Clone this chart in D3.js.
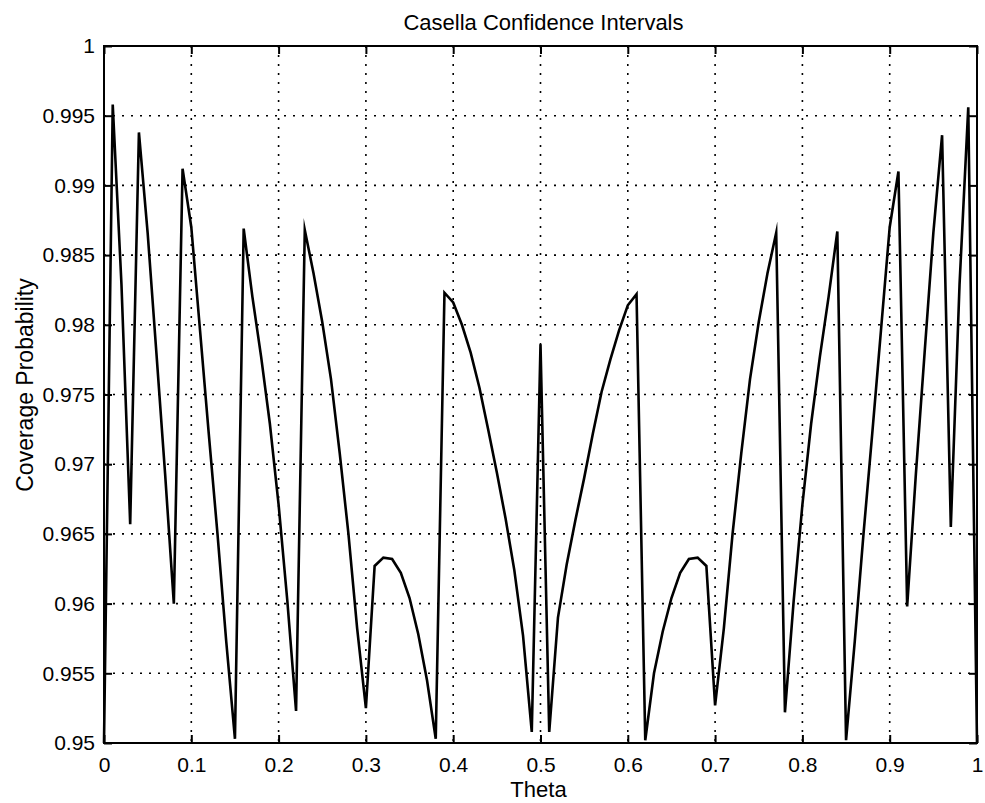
<!DOCTYPE html>
<html>
<head>
<meta charset="utf-8">
<script src="https://cdn.jsdelivr.net/npm/d3@7"></script>
<style>
  body { margin: 0; background: #fff; }
  svg text { font-family: Arial, "Liberation Sans", Helvetica, sans-serif; fill: #000; }
</style>
</head>
<body>
<div id="chart"></div>
<script>
var svgWidth = 985;
var svgHeight = 803;

var margin = {
  top: 46,
  right: 8,
  bottom: 60,
  left: 104
};

var width = svgWidth - margin.left - margin.right;
var height = svgHeight - margin.top - margin.bottom;

var theta = [
  0.00, 0.01, 0.02, 0.03, 0.04, 0.05, 0.06, 0.07, 0.08, 0.09,
  0.10, 0.11, 0.12, 0.13, 0.14, 0.15, 0.16, 0.17, 0.18, 0.19,
  0.20, 0.21, 0.22, 0.23, 0.24, 0.25, 0.26, 0.27, 0.28, 0.29,
  0.30, 0.31, 0.32, 0.33, 0.34, 0.35, 0.36, 0.37, 0.38, 0.39,
  0.40, 0.41, 0.42, 0.43, 0.44, 0.45, 0.46, 0.47, 0.48, 0.49,
  0.50, 0.51, 0.52, 0.53, 0.54, 0.55, 0.56, 0.57, 0.58, 0.59,
  0.60, 0.61, 0.62, 0.63, 0.64, 0.65, 0.66, 0.67, 0.68, 0.69,
  0.70, 0.71, 0.72, 0.73, 0.74, 0.75, 0.76, 0.77, 0.78, 0.79,
  0.80, 0.81, 0.82, 0.83, 0.84, 0.85, 0.86, 0.87, 0.88, 0.89,
  0.90, 0.91, 0.92, 0.93, 0.94, 0.95, 0.96, 0.97, 0.98, 0.99,
  1.00
];

// coverage probability at each theta
var coverage = [
  0.9500, 0.9958, 0.9829, 0.9657, 0.9938, 0.9866, 0.9780, 0.9693, 0.9600, 0.9912,
  0.9870, 0.9796, 0.9722, 0.9650, 0.9573, 0.9503, 0.9869, 0.9820, 0.9777, 0.9729,
  0.9671, 0.9602, 0.9523, 0.9868, 0.9837, 0.9802, 0.9761, 0.9708, 0.9650, 0.9582,
  0.9525, 0.9627, 0.9633, 0.9632, 0.9622, 0.9604, 0.9578, 0.9545, 0.9503, 0.9823,
  0.9816, 0.9800, 0.9780, 0.9755, 0.9725, 0.9694, 0.9661, 0.9624, 0.9577, 0.9508,
  0.9786, 0.9508, 0.9590, 0.9628, 0.9660, 0.9690, 0.9722, 0.9752, 0.9775, 0.9796,
  0.9814, 0.9822, 0.9502, 0.9550, 0.9580, 0.9604, 0.9622, 0.9632, 0.9633, 0.9627,
  0.9527, 0.9582, 0.9650, 0.9708, 0.9761, 0.9802, 0.9837, 0.9866, 0.9522, 0.9602,
  0.9671, 0.9729, 0.9777, 0.9820, 0.9867, 0.9502, 0.9573, 0.9650, 0.9722, 0.9796,
  0.9870, 0.9910, 0.9598, 0.9693, 0.9780, 0.9866, 0.9936, 0.9655, 0.9829, 0.9956,
  0.9500
];

var xTicks = [0, 0.1, 0.2, 0.3, 0.4, 0.5, 0.6, 0.7, 0.8, 0.9, 1];
var xTickLabels = ["0", "0.1", "0.2", "0.3", "0.4", "0.5", "0.6", "0.7", "0.8", "0.9", "1"];
var yTicks = [0.95, 0.955, 0.96, 0.965, 0.97, 0.975, 0.98, 0.985, 0.99, 0.995, 1];
var yTickLabels = ["0.95", "0.955", "0.96", "0.965", "0.97", "0.975", "0.98", "0.985", "0.99", "0.995", "1"];

var svg = d3
  .select("#chart")
  .append("svg")
  .attr("width", svgWidth)
  .attr("height", svgHeight);

var chartGroup = svg.append("g")
  .attr("transform", `translate(${margin.left}, ${margin.top})`);

var xLinearScale = d3.scaleLinear()
  .domain([0, 1])
  .range([0, width]);

var yLinearScale = d3.scaleLinear()
  .domain([0.95, 1])
  .range([height, 0]);

// dotted grid, matlab style
chartGroup.append("g")
  .selectAll("line")
  .data(xTicks)
  .enter()
  .append("line")
  .attr("x1", d => xLinearScale(d))
  .attr("x2", d => xLinearScale(d))
  .attr("y1", 0)
  .attr("y2", height)
  .attr("stroke", "#000")
  .attr("stroke-width", 1.6)
  .attr("stroke-dasharray", "2,7");

chartGroup.append("g")
  .selectAll("line")
  .data(yTicks)
  .enter()
  .append("line")
  .attr("x1", 0)
  .attr("x2", width)
  .attr("y1", d => yLinearScale(d))
  .attr("y2", d => yLinearScale(d))
  .attr("stroke", "#000")
  .attr("stroke-width", 1.6)
  .attr("stroke-dasharray", "2,7");

// axes with inward ticks on all four sides
var bottomAxis = d3.axisBottom(xLinearScale)
  .tickValues(xTicks)
  .tickFormat((d, i) => xTickLabels[i])
  .tickSizeInner(-8)
  .tickSizeOuter(0)
  .tickPadding(14);

var leftAxis = d3.axisLeft(yLinearScale)
  .tickValues(yTicks)
  .tickFormat((d, i) => yTickLabels[i])
  .tickSizeInner(-8)
  .tickSizeOuter(0)
  .tickPadding(9);

var topAxis = d3.axisTop(xLinearScale)
  .tickValues(xTicks)
  .tickFormat("")
  .tickSizeInner(-8)
  .tickSizeOuter(0);

var rightAxis = d3.axisRight(yLinearScale)
  .tickValues(yTicks)
  .tickFormat("")
  .tickSizeInner(-8)
  .tickSizeOuter(0);

var xAxis = chartGroup.append("g")
  .attr("transform", `translate(0, ${height})`)
  .call(bottomAxis);

var yAxis = chartGroup.append("g")
  .call(leftAxis);

chartGroup.append("g").call(topAxis);
chartGroup.append("g")
  .attr("transform", `translate(${width}, 0)`)
  .call(rightAxis);

chartGroup.selectAll(".domain").remove();
chartGroup.selectAll(".tick line")
  .attr("stroke", "#000")
  .attr("stroke-width", 2);

xAxis.selectAll("text")
  .attr("font-size", "21px")
  .attr("font-family", "Arial, 'Liberation Sans', sans-serif");
yAxis.selectAll("text")
  .attr("font-size", "21px")
  .attr("font-family", "Arial, 'Liberation Sans', sans-serif");

// box around the axes
chartGroup.append("rect")
  .attr("x", 0)
  .attr("y", 0)
  .attr("width", width)
  .attr("height", height)
  .attr("fill", "none")
  .attr("stroke", "#000")
  .attr("stroke-width", 2);

// the coverage curve
var points = theta.map((t, i) => ({theta: t, cov: coverage[i]}));

var covLine = d3.line()
  .x(d => xLinearScale(d.theta))
  .y(d => yLinearScale(d.cov));

chartGroup.append("path")
  .datum(points)
  .attr("d", covLine)
  .attr("fill", "none")
  .attr("stroke", "#000")
  .attr("stroke-width", 2.6)
  .attr("stroke-linejoin", "miter")
  .attr("stroke-miterlimit", 10);

// title and axis labels
svg.append("text")
  .attr("x", margin.left + width / 2 + 3)
  .attr("y", 30)
  .attr("text-anchor", "middle")
  .attr("font-size", "22px")
  .text("Casella Confidence Intervals");

svg.append("text")
  .attr("x", margin.left + width / 2 - 2)
  .attr("y", 797)
  .attr("text-anchor", "middle")
  .attr("font-size", "22px")
  .text("Theta");

svg.append("text")
  .attr("transform", "rotate(-90)")
  .attr("x", -385)
  .attr("y", 33)
  .attr("text-anchor", "middle")
  .attr("font-size", "23px")
  .text("Coverage Probability");
</script>
</body>
</html>
